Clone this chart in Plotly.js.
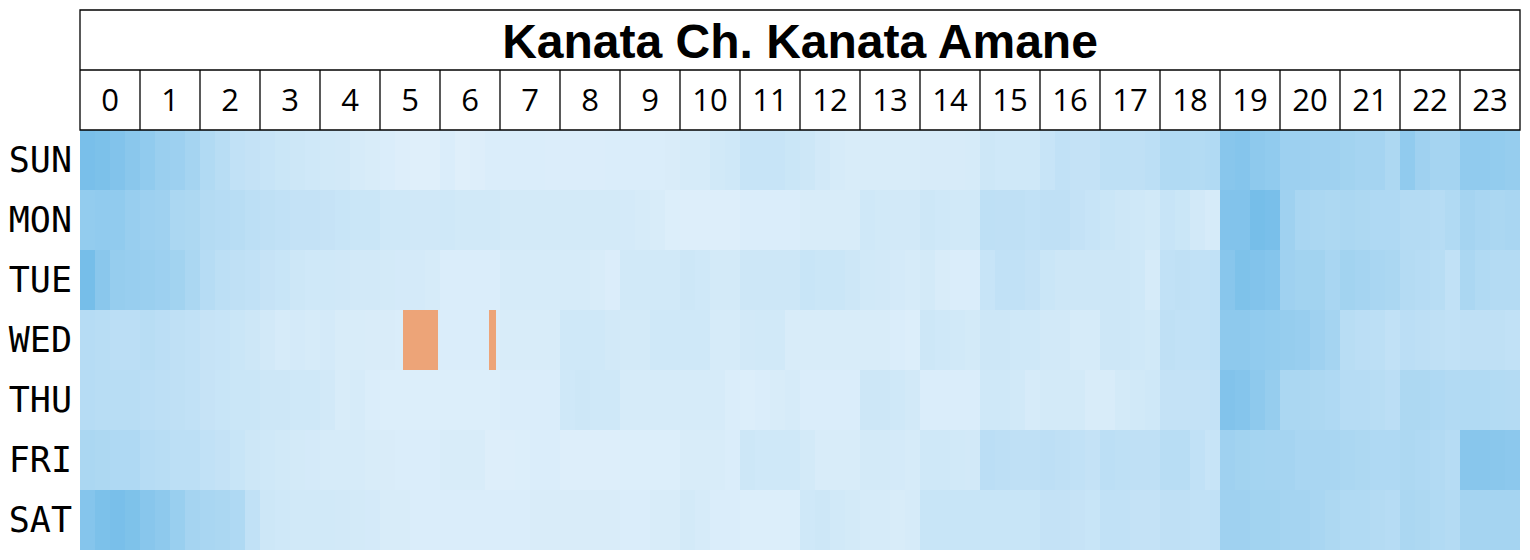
<!DOCTYPE html>
<html>
<head>
<meta charset="utf-8">
<script src="https://cdn.plot.ly/plotly-3.0.1.min.js"></script>
<style>html,body{margin:0;padding:0;background:#fff;}#chart{width:1530px;height:560px;}</style>
</head>
<body>
<div id="chart"></div>
<script>
// ---- data ----
const chartTitle = 'Kanata Ch. Kanata Amane';
const hours = ['0','1','2','3','4','5','6','7','8','9','10','11','12','13','14','15','16','17','18','19','20','21','22','23'];
const days = ['SUN','MON','TUE','WED','THU','FRI','SAT'];
const binsPerHour = 4; // 15-minute bins, values are relative activity (0-100)

const sun = [92,90,85,78, 72,64,62,55, 45,38,30,28, 25,22,20,18, 16,15,12,10, 8,5,4,4, 8,4,5,8, 8,8,8,7, 7,7,7,8, 8,8,8,9, 12,12,16,18, 25,25,25,22, 20,15,12,10, 10,10,10,10, 11,11,11,12, 20,18,18,18, 25,30,28,28, 33,33,32,35, 45,45,43,45, 80,82,75,72, 62,62,60,60, 58,55,55,48, 72,60,55,55, 72,72,70,68];
const mon = [70,72,72,66, 62,60,50,48, 42,40,38,35, 32,30,28,28, 26,24,22,22, 18,18,17,17, 18,16,16,16, 14,14,14,14, 14,14,14,14, 13,12,10,6, 5,5,5,5, 8,8,8,8, 10,10,10,10, 18,16,15,15, 20,18,16,16, 33,32,32,30, 32,32,28,25, 22,20,18,16, 25,22,15,12, 85,85,95,92, 60,52,50,48, 50,48,46,46, 42,42,40,45, 55,52,50,52];
const tue = [95,78,68,66, 64,62,58,50, 40,35,32,30, 26,24,20,18, 18,17,15,15, 14,13,13,12, 8,8,8,8, 12,12,12,12, 12,12,10,7, 16,16,16,16, 20,18,14,14, 20,20,20,20, 24,22,22,20, 16,15,13,12, 14,10,8,8, 25,30,30,28, 22,20,20,20, 20,20,18,12, 30,32,30,30, 80,88,85,82, 60,58,58,52, 58,55,52,50, 42,40,38,30, 50,45,42,42];
const wed = [40,38,36,36, 38,36,32,30, 26,25,22,20, 15,12,13,12, 13,10,10,9, 9,8,8,8, 8,8,8,8, 10,10,10,10, 18,18,18,15, 14,14,18,18, 18,18,12,12, 15,16,16,10, 10,10,10,10, 10,10,8,6, 20,18,16,14, 20,20,18,18, 15,15,12,12, 20,20,18,16, 32,30,30,30, 75,75,72,70, 68,66,60,55, 38,36,35,30, 36,34,32,30, 32,32,32,30];
const thu = [40,38,38,38, 36,34,32,30, 26,24,22,22, 20,20,18,18, 15,10,12,8, 6,6,6,6, 6,6,6,6, 8,8,8,8, 18,20,18,18, 12,12,12,12, 12,12,12,8, 6,8,10,12, 8,8,8,8, 20,20,18,15, 8,8,8,8, 18,18,16,12, 14,14,14,10, 10,14,16,18, 28,28,28,28, 85,82,75,68, 50,50,48,46, 40,40,38,36, 48,48,46,44, 45,45,43,42];
const fri = [50,48,46,46, 40,38,35,35, 30,28,24,20, 18,16,14,13, 12,12,12,10, 9,8,8,8, 10,10,10,5, 5,6,8,8, 5,5,5,5, 6,6,6,6, 10,10,10,8, 20,18,18,18, 14,10,10,10, 14,14,13,12, 18,18,16,15, 36,34,32,32, 34,32,30,28, 35,33,32,32, 38,38,30,25, 60,58,56,55, 55,52,52,52, 50,48,46,46, 48,46,44,40, 80,80,78,76];
const sat = [82,90,92,88, 80,75,65,55, 52,50,46,30, 20,18,16,16, 16,15,14,13, 10,10,8,8, 8,8,8,8, 8,8,9,9, 9,9,9,9, 8,8,10,10, 14,12,8,8, 6,6,6,6, 18,20,16,14, 12,12,10,12, 24,24,24,24, 24,24,24,24, 28,28,26,24, 30,30,28,28, 32,32,30,30, 60,60,58,58, 55,55,52,48, 45,45,42,40, 50,48,45,42, 55,55,55,55];

// highlighted (orange) periods, minutes since midnight
const highlightDay = 'WED';
const highlightFrom = [323, 409];
const highlightTo = [358, 416];

// ---- build ----
const zRows = [sun, mon, tue, wed, thu, fri, sat];
const nBins = hours.length * binsPerHour;
const xCenters = [];
for (let i = 0; i < nBins; i++) xCenters.push((i + 0.5) / binsPerHour);

const main = {
  type: 'heatmap',
  x: xCenters,
  y: days,
  z: zRows,
  zmin: 0, zmax: 100,
  colorscale: [[0, '#e3f1fb'], [0.5, '#abd7f2'], [1, '#70bbe8']],
  showscale: false,
  zsmooth: false
};

// orange periods drawn as horizontal bars on the same axes
const highlight = {
  type: 'bar',
  orientation: 'h',
  y: highlightFrom.map(() => highlightDay),
  base: highlightFrom.map(m => m / 60),
  x: highlightFrom.map((m, i) => (highlightTo[i] - m) / 60),
  width: highlightFrom.map(() => 1),
  marker: {color: '#eda478', line: {width: 0}},
  hoverinfo: 'skip'
};

const topRow = (550 - 70) / 420;   // paper y of the line between title and hours
const topBox = (550 - 10) / 420;   // paper y of the top of the title box
const shapes = [
  {type: 'rect', xref: 'paper', yref: 'paper', x0: 0, x1: 1, y0: 1, y1: topBox, line: {color: 'black', width: 1.3}},
  {type: 'line', xref: 'paper', yref: 'paper', x0: 0, x1: 1, y0: topRow, y1: topRow, line: {color: 'black', width: 1.3}}
];
for (let i = 1; i < hours.length; i++) {
  shapes.push({type: 'line', xref: 'x', yref: 'paper', x0: i, x1: i, y0: 1, y1: topRow, line: {color: 'black', width: 1.3}});
}

const layout = {
  width: 1530, height: 560,
  margin: {l: 80, r: 10, t: 130, b: 10, pad: 0},
  paper_bgcolor: 'white', plot_bgcolor: 'white',
  barmode: 'overlay',
  title: {
    text: '<b>' + chartTitle + '</b>',
    font: {family: 'Liberation Sans, Arial, sans-serif', size: 48, color: 'black'},
    x: 0.5, xref: 'paper', xanchor: 'center',
    y: 1 - 41 / 560, yref: 'container', yanchor: 'middle'
  },
  xaxis: {
    range: [0, 24], side: 'top',
    tickvals: hours.map((h, i) => i + 0.5), ticktext: hours,
    tickfont: {family: 'Open Sans, sans-serif', size: 31, color: 'black'},
    ticks: '', showgrid: false, zeroline: false, showline: false,
    ticklabelstandoff: 12, fixedrange: true
  },
  yaxis: {
    type: 'category', categoryarray: days, categoryorder: 'array',
    range: [days.length - 0.5, -0.5],
    tickfont: {family: 'DejaVu Sans Mono, monospace', size: 35, color: 'black'},
    ticks: '', showgrid: false, zeroline: false, showline: false,
    ticklabelstandoff: 7, fixedrange: true
  },
  shapes: shapes,
  showlegend: false
};

Plotly.newPlot('chart', [main, highlight], layout, {displayModeBar: false});
</script>
</body>
</html>
